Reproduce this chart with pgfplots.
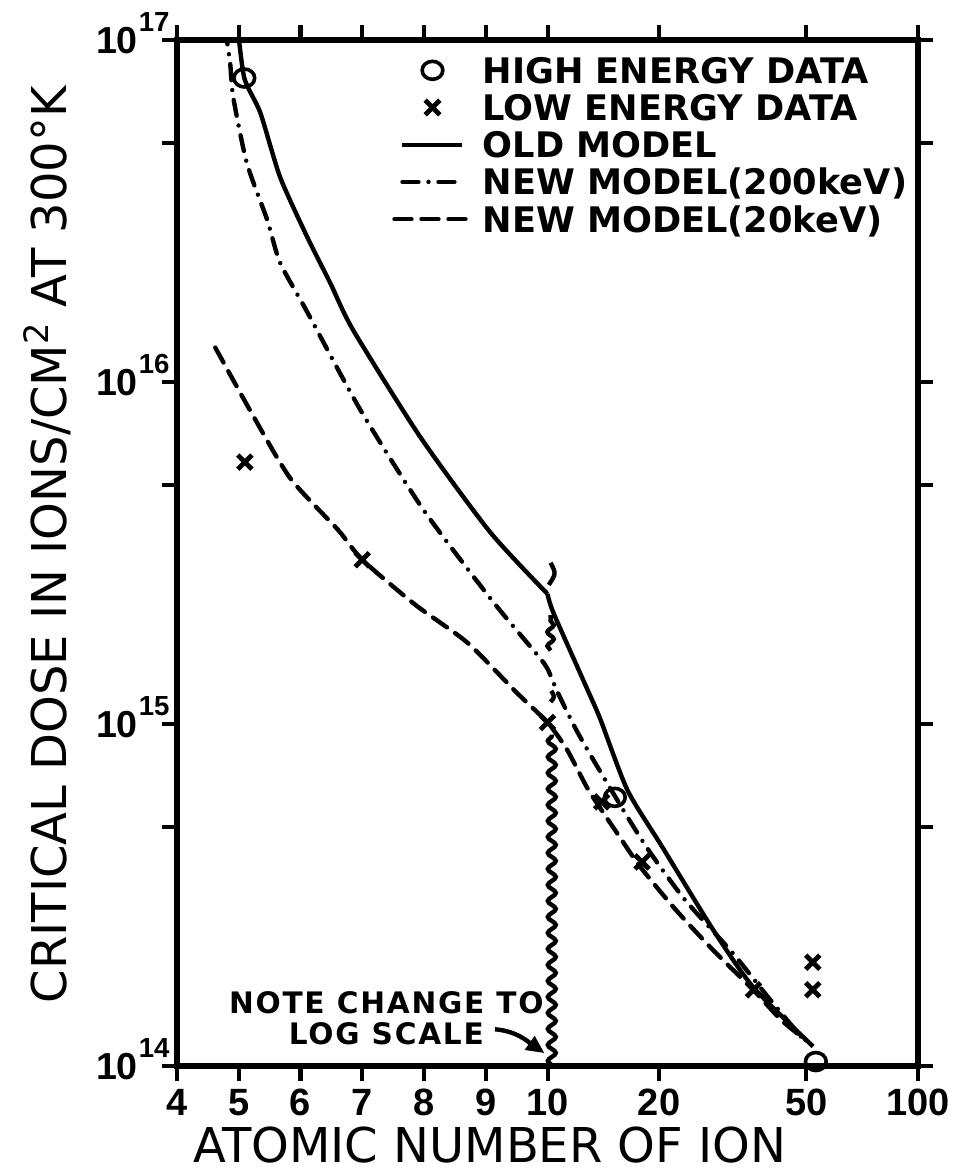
\documentclass[border=0pt]{standalone}
\usepackage{pgfplots}
\pgfplotsset{compat=1.18}
\usepackage{pgfplotstable}
\usepackage{fontspec}
\setmainfont{DejaVu Sans}
\newfontfamily\notefont[LetterSpace=6]{DejaVu Sans}
\newfontfamily\tickfont{Liberation Sans}
\usetikzlibrary{decorations.pathmorphing,arrows.meta}

% x axis: linear from 4 to 10, logarithmic (6 units per decade) from 10 to 100
\newcommand{\tr}[1]{ifthenelse(#1<10,#1,10+2.605767*ln(#1/10))}
\newcommand{\tp}[1]{10\kern0.5pt\raisebox{11pt}{\fontsize{13.8}{13.8}\selectfont #1}}

\pgfplotsset{
  markleg/.style={legend image code/.code={\draw[mark repeat=2,mark phase=2,##1] plot coordinates {(0pt,0pt) (15pt,0pt) (30pt,0pt)};}},
  lineleg/.style={legend image code/.code={\draw[##1] (0pt,0pt) -- (30pt,0pt);}},
  dashdotleg/.style={legend image code/.code={\draw[##1] (0pt,0pt) -- (30pt,0pt);}},
  dashleg/.style={legend image code/.code={\draw[##1] (-4pt,0pt) -- (32pt,0pt);}},
  dashdotsty/.style={line width=2.2pt, line cap=round, dash pattern=on 8pt off 5pt on 0pt off 5pt},
  dashsty/.style={line width=2.2pt, line cap=round, dash pattern=on 8.5pt off 5pt},
}

\pgfplotstableread{
Z D
4.98 1.10e17
5.09 7.74e16
5.35 6.12e16
5.67 3.97e16
6.11 2.65e16
6.48 1.95e16
6.85 1.42e16
7.94 6.90e15
9.07 3.64e15
10.0 2.40e15
}\oldmodelA

\pgfplotstableread{
Z D
10.0 2.40e15
10.38 2.11e15
12.82 1.26e15
13.9 1.03e15
16.43 6.41e14
20.4 4.37e14
28.0 2.50e14
35.9 1.70e14
52.1 1.14e14
}\oldmodelB

\pgfplotstableread{
Z D
4.78 1.08e17
4.86 8.57e16
4.91 6.81e16
5.13 4.37e16
5.46 2.98e16
5.67 2.23e16
6.11 1.60e16
6.97 8.28e15
7.99 4.23e15
9.09 2.31e15
9.85 1.58e15
10.0 1.45e15
10.64 1.24e15
11.9 9.70e14
13.3 7.85e14
16.43 5.35e14
18.95 4.20e14
23.5 3.06e14
31.6 2.14e14
39.0 1.61e14
49.2 1.19e14
}\newhigh

\pgfplotstableread{
Z D
4.62 1.26e16
5.18 8.28e15
5.83 5.24e15
6.61 3.69e15
7.0 3.02e15
7.86 2.23e15
8.70 1.73e15
9.51 1.23e15
10.0 1.01e15
11.3 8.40e14
12.9 6.41e14
15.4 4.80e14
17.8 3.82e14
22.2 2.86e14
28.0 2.18e14
35.9 1.67e14
42.8 1.36e14
49.8 1.19e14
}\newlow

\pgfplotstableread{
Z D
5.09 7.74e16
15.2 6.10e14
53.0 1.03e14
}\highdata

\pgfplotstableread{
Z D
5.1 5.83e15
7.0 3.02e15
10.0 1.01e15
14.0 5.92e14
18.0 3.95e14
36.0 1.67e14
52.0 2.01e14
52.0 1.67e14
}\lowdata

\begin{document}
\begin{tikzpicture}
\useasboundingbox (-88.5pt,-53.5pt) rectangle (395pt,533pt);
\begin{axis}[
  at={(0,0)}, anchor=south west,
  scale only axis, width=370.5pt, height=513pt,
  xmin=4, xmax=16, ymin=1e14, ymax=1e17, ymode=log,
  clip mode=individual, axis on top,
  xtick={4,5,6,7,8,9,10,11.80618,14.19382,16},
  xticklabels={4,5,6,7,8,9,10,20,50,100},
  ytick={1e14,5e14,1e15,5e15,1e16,5e16,1e17},
  yticklabels={\tp{14},,\tp{15},,\tp{16},,\tp{17}},
  yminorticks=false, xminorticks=false,
  tick align=outside, major tick length=7.5pt,
  major tick style={line width=2pt, black},
  axis line style={line width=3.3pt},
  xticklabel style={font=\tickfont\bfseries\fontsize{19}{19}\selectfont, anchor=north, inner sep=0pt, yshift=-4pt},
  yticklabel style={font=\tickfont\bfseries\fontsize{18.8}{18.8}\selectfont, anchor=base east, inner sep=0pt, yshift=-6.75pt, xshift=4pt},
  xlabel={ATOMIC NUMBER OF ION},
  xlabel style={at={(axis description cs:0.422,-0.094)}, anchor=base, font=\fontsize{24}{24}\selectfont, inner sep=0pt},
  ylabel={CRITICAL DOSE IN IONS/CM\textsuperscript{2} AT 300°K},
  ylabel style={at={(axis description cs:-0.1754,0.508)}, anchor=center, font=\fontsize{24}{24}\selectfont, inner sep=0pt},
  legend style={at={(axis description cs:0.29,1)}, anchor=north west, yshift=-8.5pt,
    draw=none, fill=none, inner sep=0pt, row sep=5.6pt,
    font=\bfseries\fontsize{17.6}{17.6}\selectfont,
    nodes={inner sep=0pt, text height=13pt, text depth=0pt},
    /tikz/every odd column/.append style={column sep=7pt}},
  legend cell align=left,
]
\addlegendimage{only marks, mark=o, mark size=4.5pt, line width=1.8pt, mark options={xscale=1.15, fill=white}, markleg}
\addlegendentry{HIGH ENERGY DATA}
\addlegendimage{only marks, mark=x, mark size=5.2pt, line width=2.4pt, markleg}
\addlegendentry{LOW ENERGY DATA}
\addlegendimage{line width=2.2pt, lineleg}
\addlegendentry{OLD MODEL}
\addlegendimage{dashdotsty, dashdotleg}
\addlegendentry{NEW MODEL(200keV)}
\addlegendimage{dashsty, dashleg}
\addlegendentry{NEW MODEL(20keV)}

\addplot[forget plot, black, line width=2.2pt, line join=round, smooth, tension=0.4] table[x expr={\tr{\thisrow{Z}}}, y=D] {\oldmodelA};
\addplot[forget plot, black, line width=2.2pt, line join=round, smooth, tension=0.4] table[x expr={\tr{\thisrow{Z}}}, y=D] {\oldmodelB};
\addplot[forget plot, black, dashdotsty, smooth, tension=0.4] table[x expr={\tr{\thisrow{Z}}}, y=D] {\newhigh};
\addplot[forget plot, black, dashsty, smooth, tension=0.4] table[x expr={\tr{\thisrow{Z}}}, y=D] {\newlow};
\addplot[forget plot, black, only marks, mark=o, mark size=4.5pt, line width=1.8pt, mark options={xscale=1.15, fill=white}] table[x expr={\tr{\thisrow{Z}}}, y=D] {\highdata};
\addplot[forget plot, black, only marks, mark=x, mark size=5pt, line width=2.4pt] table[x expr={\tr{\thisrow{Z}}}, y=D] {\lowdata};

% scale-break marks at Z = 10
\draw[line width=2.2pt, decorate, decoration={snake, amplitude=2pt, segment length=8pt}] (axis cs:10.07,1e14) -- (axis cs:10.07,9.3e14);
\draw[line width=2.2pt, decorate, decoration={snake, amplitude=1.6pt, segment length=7pt}] (axis cs:10.05,1.64e15) -- (axis cs:10.05,2.08e15);
\draw[line width=2.2pt] (axis cs:10.05,1.16e15) .. controls (axis cs:10.12,1.2e15) .. (axis cs:10.06,1.25e15);
\draw[line width=2.2pt] (axis cs:10.02,2.55e15) .. controls (axis cs:10.14,2.75e15) .. (axis cs:10.05,2.96e15);

% annotation
\node[font=\notefont\bfseries\fontsize{14.8}{15.5}\selectfont, align=center, inner sep=0pt] at (axis cs:7.39,1.38e14) {NOTE CHANGE TO\\[0pt]LOG SCALE};
\draw[line width=2.2pt, -{Triangle[length=9pt,width=8pt]}] (axis cs:9.15,1.28e14) to[out=-5,in=145] (axis cs:9.95,1.09e14);
\end{axis}
\end{tikzpicture}
\end{document}
